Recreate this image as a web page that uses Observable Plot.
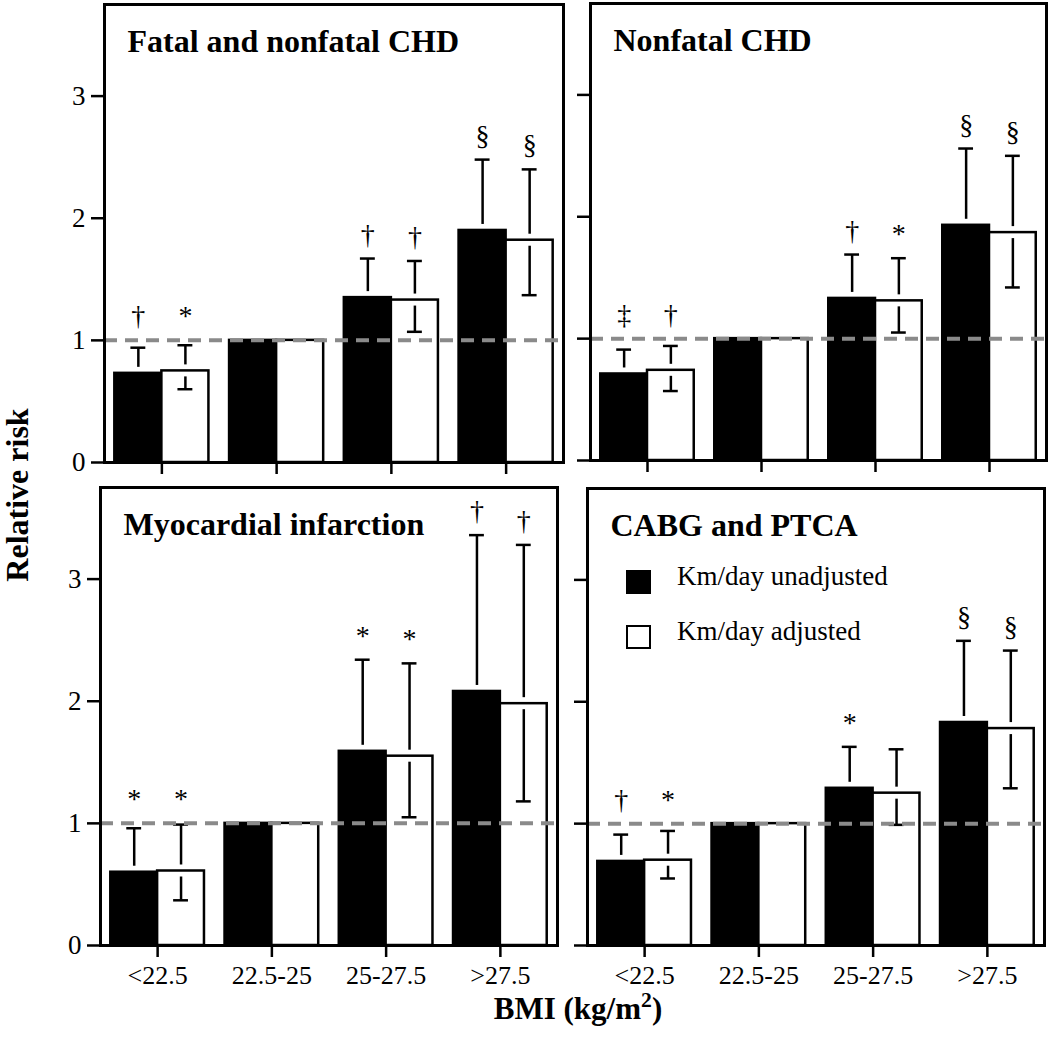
<!DOCTYPE html>
<html>
<head>
<meta charset="utf-8">
<script src="https://cdn.jsdelivr.net/npm/d3@7"></script>
<script src="https://cdn.jsdelivr.net/npm/@observablehq/plot@0.6"></script>
<style>
  body { margin: 0; background: #fff; }
  #fig { position: relative; width: 1050px; height: 1041px; overflow: hidden;
         font-family: "Liberation Serif", "Times New Roman", serif; color: #000; }
  #fig svg { position: absolute; overflow: visible; }
  #fig g[aria-label^="x-axis"] line, #fig g[aria-label^="x-axis"] path,
  #fig g[aria-label^="y-axis"] line, #fig g[aria-label^="y-axis"] path { stroke-width: 2.5px; stroke: #000; }
  #fig g[aria-label^="x-axis"] text { font-size: 26px; }
  #fig g[aria-label^="y-axis"] text { font-size: 27px; }
  .lab { position: absolute; white-space: nowrap; font-weight: bold; line-height: 1; }
  .sw { position: absolute; width: 25px; height: 24px; box-sizing: border-box; border: 2.5px solid #000; }
  .lt { position: absolute; white-space: nowrap; font-size: 27px; line-height: 27px; }
</style>
</head>
<body>
<div id="fig"></div>
<script>
// ---------- data ----------
const categories = ["<22.5", "22.5-25", "25-27.5", ">27.5"];
const yTicks = [0, 1, 2, 3];
const seriesNames = ["Km/day unadjusted", "Km/day adjusted"];
const panelTitles = ["Fatal and nonfatal CHD", "Nonfatal CHD", "Myocardial infarction", "CABG and PTCA"];

// Fatal and nonfatal CHD
const chdUnadj      = [0.73, 1.00, 1.35, 1.90];
const chdUnadjUpper = [0.94, null, 1.67, 2.48];
const chdAdj        = [0.75, 1.00, 1.33, 1.82];
const chdAdjUpper   = [0.96, null, 1.65, 2.40];
const chdAdjLower   = [0.60, null, 1.07, 1.37];
const chdUnadjSig   = ["†", "", "†", "§"];
const chdAdjSig     = ["*", "", "†", "§"];

// Nonfatal CHD
const nfUnadj       = [0.71, 1.00, 1.33, 1.93];
const nfUnadjUpper  = [0.91, null, 1.69, 2.56];
const nfAdj         = [0.74, 1.00, 1.31, 1.87];
const nfAdjUpper    = [0.94, null, 1.66, 2.50];
const nfAdjLower    = [0.57, null, 1.05, 1.42];
const nfUnadjSig    = ["‡", "", "†", "§"];
const nfAdjSig      = ["†", "", "*", "§"];

// Myocardial infarction
const miUnadj       = [0.60, 1.00, 1.59, 2.08];
const miUnadjUpper  = [0.96, null, 2.34, 3.36];
const miAdj         = [0.61, 1.00, 1.55, 1.98];
const miAdjUpper    = [0.99, null, 2.31, 3.28];
const miAdjLower    = [0.37, null, 1.05, 1.18];
const miUnadjSig    = ["*", "", "*", "†"];
const miAdjSig      = ["*", "", "*", "†"];

// CABG and PTCA
const cabgUnadj      = [0.69, 1.00, 1.29, 1.83];
const cabgUnadjUpper = [0.91, null, 1.63, 2.50];
const cabgAdj        = [0.70, 1.00, 1.25, 1.78];
const cabgAdjUpper   = [0.94, null, 1.61, 2.42];
const cabgAdjLower   = [0.55, null, 0.99, 1.29];
const cabgUnadjSig   = ["†", "", "*", "§"];
const cabgAdjSig     = ["*", "", "", "§"];

const referenceRR = 1;

// ---------- layout ----------
const BAR = 0.41;      // bar width in category units
const CAP = 0.065;     // half cap width
const fig = document.getElementById("fig");

function panel(title, unadj, unadjHi, adj, adjHi, adjLo, unadjSig, adjSig, frame, showX, showY) {
  const rows = [];
  categories.forEach((c, i) => {
    rows.push({i, s: 0, v: unadj[i], hi: unadjHi[i], lo: null, sig: unadjSig[i]});
    rows.push({i, s: 1, v: adj[i], hi: adjHi[i], lo: adjLo[i], sig: adjSig[i]});
  });
  const cx = d => d.i + (d.s - 0.5) * BAR;
  const withHi = rows.filter(d => d.hi != null);
  const withLo = rows.filter(d => d.lo != null);
  const mL = 70, mR = 6, mT = 6, mB = 50;
  const W = frame.r - frame.l, H = frame.b - frame.t;
  const svg = Plot.plot({
    width: W + mL + mR, height: H + mT + mB,
    marginLeft: mL, marginRight: mR, marginTop: mT, marginBottom: mB,
    style: {background: "transparent", fontFamily: "'Liberation Serif', 'Times New Roman', serif", fontSize: "26px", color: "#000", overflow: "visible"},
    x: {domain: [-0.5, 3.5], ticks: [0, 1, 2, 3], tickFormat: showX ? (i => categories[i]) : (() => ""), tickSize: 12, tickPadding: 8, label: null},
    y: {domain: [0, 3.75], ticks: yTicks, tickFormat: showY ? (d => String(d)) : (() => ""), tickSize: 13, tickPadding: 6, label: null},
    marks: [
      Plot.rect(rows, {x1: d => d.i + (d.s - 1) * BAR, x2: d => d.i + d.s * BAR, y1: 0, y2: "v",
        fill: d => d.s === 0 ? "#000" : "#fff", stroke: "#000", strokeWidth: 2.5}),
      Plot.ruleX(withHi, {x: cx, y1: "hi", y2: "v", stroke: "#000", strokeWidth: 2.5, insetBottom: 6}),
      Plot.ruleY(withHi, {y: "hi", x1: d => cx(d) - CAP, x2: d => cx(d) + CAP, stroke: "#000", strokeWidth: 2.5}),
      Plot.ruleX(withLo, {x: cx, y1: "v", y2: "lo", stroke: "#000", strokeWidth: 2.5, insetTop: 6}),
      Plot.ruleY(withLo, {y: "lo", x1: d => cx(d) - CAP, x2: d => cx(d) + CAP, stroke: "#000", strokeWidth: 2.5}),
      Plot.ruleY([referenceRR], {stroke: "#8a8a8a", strokeWidth: 4, strokeDasharray: "13,8"}),
      Plot.text(withHi.filter(d => d.sig), {x: cx, y: d => Math.max(d.hi, referenceRR), text: "sig",
        lineAnchor: "bottom", dy: -15, fontSize: 28, fill: "#000"}),
      Plot.text([title], {frameAnchor: "top-left", text: d => d, textAnchor: "start", lineAnchor: "top", dx: 23, dy: 25,
        fontSize: 32, fontWeight: "bold", fill: "#000"}),
      Plot.frame({stroke: "#000", strokeWidth: 3})
    ]
  });
  svg.style.left = (frame.l - mL) + "px";
  svg.style.top = (frame.t - mT) + "px";
  fig.appendChild(svg);
}

panel(panelTitles[0], chdUnadj, chdUnadjUpper, chdAdj, chdAdjUpper, chdAdjLower, chdUnadjSig, chdAdjSig,
      {l: 104, r: 563, t: 4, b: 462}, false, true);
panel(panelTitles[1], nfUnadj, nfUnadjUpper, nfAdj, nfAdjUpper, nfAdjLower, nfUnadjSig, nfAdjSig,
      {l: 590, r: 1046, t: 3, b: 460}, false, false);
panel(panelTitles[2], miUnadj, miUnadjUpper, miAdj, miAdjUpper, miAdjLower, miUnadjSig, miAdjSig,
      {l: 100, r: 557, t: 487, b: 945}, true, true);
panel(panelTitles[3], cabgUnadj, cabgUnadjUpper, cabgAdj, cabgAdjUpper, cabgAdjLower, cabgUnadjSig, cabgAdjSig,
      {l: 587, r: 1044, t: 488, b: 945}, true, false);

// axis titles
const yl = document.createElement("div");
yl.className = "lab";
yl.style.cssText = "left:17px;top:495px;font-size:32px;transform:translate(-50%,-50%) rotate(-90deg);";
yl.textContent = "Relative risk";
fig.appendChild(yl);

const xl = document.createElement("div");
xl.className = "lab";
xl.style.cssText = "left:578px;top:993px;font-size:31px;transform:translateX(-50%);";
xl.innerHTML = "BMI (kg/m<sup style=\"font-size:70%;line-height:0;vertical-align:0.55em\">2</sup>)";
fig.appendChild(xl);

// legend (inside CABG panel)
[["#000", 570, 563], ["#fff", 625, 618]].forEach(([fill, top, ttop], k) => {
  const sw = document.createElement("div");
  sw.className = "sw";
  sw.style.cssText = `left:626px;top:${top}px;background:${fill};`;
  fig.appendChild(sw);
  const t = document.createElement("div");
  t.className = "lt";
  t.style.cssText = `left:677px;top:${ttop}px;`;
  t.textContent = seriesNames[k];
  fig.appendChild(t);
});
</script>
</body>
</html>
